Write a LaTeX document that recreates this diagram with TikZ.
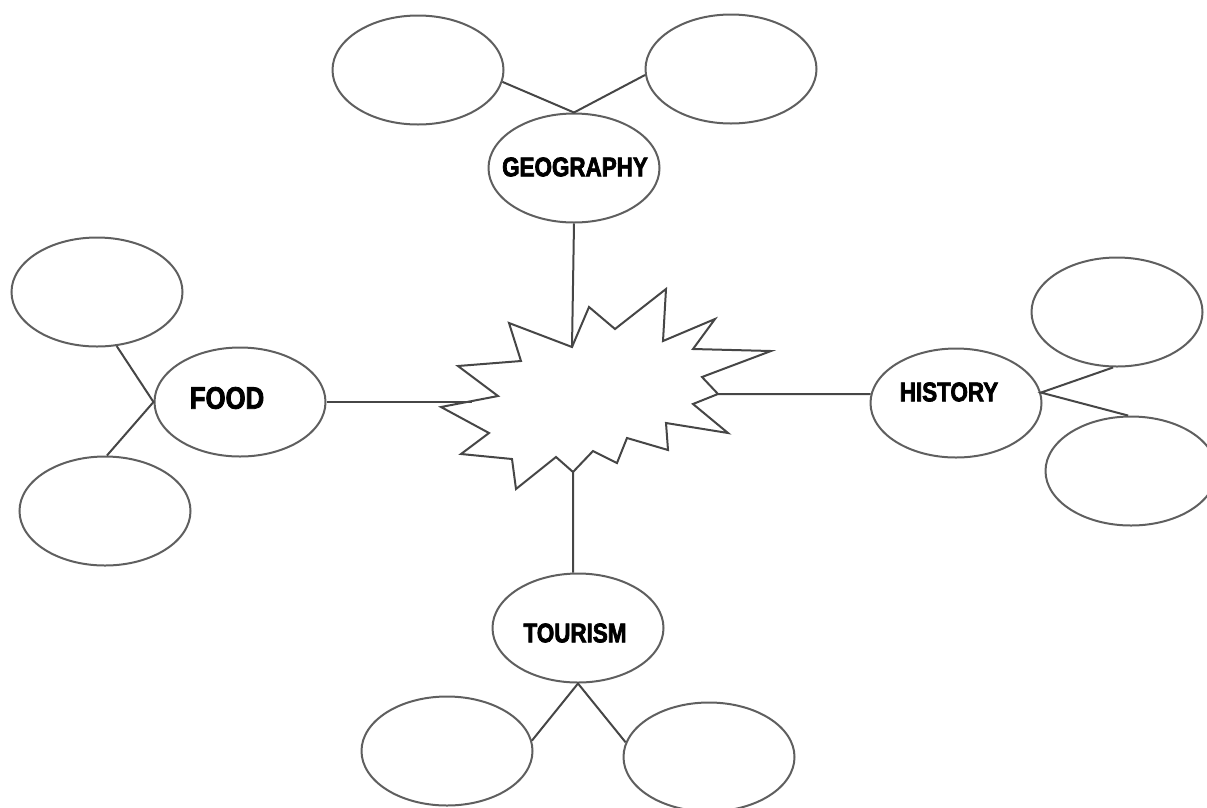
\documentclass[tikz,border=0pt]{standalone}
\usepackage{fontspec}
\setmainfont{Liberation Sans}
\newfontfamily\topicfont{Liberation Sans}[UprightFont={* Bold},UprightFeatures={FakeBold=2.6,FakeStretch=0.83}]
\usetikzlibrary{shapes.geometric}
\definecolor{rimgray}{RGB}{95,95,95}
\definecolor{linkgray}{RGB}{70,70,70}
\tikzset{
  bubble/.style={draw=rimgray,line width=2pt,ellipse,inner sep=0pt,minimum width=171pt,minimum height=109pt},
  topic/.style={inner sep=0.75pt,font=\fontsize{27}{29}\selectfont\topicfont},
  link/.style={draw=linkgray,line width=2pt}
}
\begin{document}
\begin{tikzpicture}[x=1pt,y=1pt,yscale=-1,xscale=1]
	\useasboundingbox (0,0) rectangle (1207,807);

	%Shape: Ellipse [geography]
	\node [bubble] (geo) at (574,168) {};
	\node [bubble] (geoL) at (418,70) {};
	\node [bubble] (geoR) at (731,69) {};
	%Shape: Ellipse [food]
	\node [bubble] (food) at (240,402) {};
	\node [bubble] (foodT) at (97,292) {};
	\node [bubble] (foodB) at (105,511) {};
	%Shape: Ellipse [history]
	\node [bubble] (hist) at (956,403) {};
	\node [bubble] (histT) at (1117,312) {};
	\node [bubble] (histB) at (1131,471) {};
	%Shape: Ellipse [tourism]
	\node [bubble] (tour) at (578,628) {};
	\node [bubble] (tourL) at (447,751) {};
	\node [bubble] (tourR) at (709,757) {};

	%Shape: Star
	\coordinate (s1) at (572,347);
	\coordinate (s2) at (589,307);
	\coordinate (s3) at (615,329);
	\coordinate (s4) at (666,289);
	\coordinate (s5) at (663,341);
	\coordinate (s6) at (715,319);
	\coordinate (s7) at (693,349);
	\coordinate (s8) at (771,351);
	\coordinate (s9) at (702,377);
	\coordinate (s10) at (718,394);
	\coordinate (s11) at (693,404);
	\coordinate (s12) at (728,433);
	\coordinate (s13) at (666,423);
	\coordinate (s14) at (668,450);
	\coordinate (s15) at (627,438);
	\coordinate (s16) at (617,463);
	\coordinate (s17) at (593,451);
	\coordinate (s18) at (573,472);
	\coordinate (s19) at (556,457);
	\coordinate (s20) at (516,489);
	\coordinate (s21) at (512,459);
	\coordinate (s22) at (461,454);
	\coordinate (s23) at (489,433);
	\coordinate (s24) at (441,407);
	\coordinate (s25) at (498,396);
	\coordinate (s26) at (458,366);
	\coordinate (s27) at (521,361);
	\coordinate (s28) at (509,323);
	\coordinate (sw) at (472,402);
	\draw [draw=linkgray,line width=2pt,line join=miter] (s1) -- (s2) -- (s3) -- (s4) -- (s5) -- (s6) -- (s7) -- (s8) -- (s9) -- (s10) -- (s11) -- (s12) -- (s13) -- (s14) -- (s15) -- (s16) -- (s17) -- (s18) -- (s19) -- (s20) -- (s21) -- (s22) -- (s23) -- (s24) -- (s25) -- (s26) -- (s27) -- (s28) -- cycle ;

	%Straight Lines [hub]
	\draw [link] (geo.south) -- (s1) ;
	\draw [link] (s18) -- (tour.95) ;
	\draw [link] (food.east) -- (sw) ;
	\draw [link] (s10) -- (hist.174) ;

	%Straight Lines [branches]
	\draw [link] (geoL.-8) -- (geo.north) -- (geoR.184) ;
	\draw [link] (foodT.-70) -- (food.west) -- (foodB.88) ;
	\draw [link] (histT.-94) -- (hist.7) -- (histB.93) ;
	\draw [link] (tourL.7) -- (tour.south) -- (tourR.170) ;

	% Text Node
	\node [topic] (geotxt) at (575,167) {GEOGRAPHY};
	% Text Node
	\node [topic,font=\fontsize{31}{33}\selectfont\topicfont] (foodtxt) at (227,398) {FOOD};
	% Text Node
	\node [topic] (histtxt) at (949,392) {HISTORY};
	% Text Node
	\node [topic] (tourtxt) at (575,633) {TOURISM};
\end{tikzpicture}
\end{document}
